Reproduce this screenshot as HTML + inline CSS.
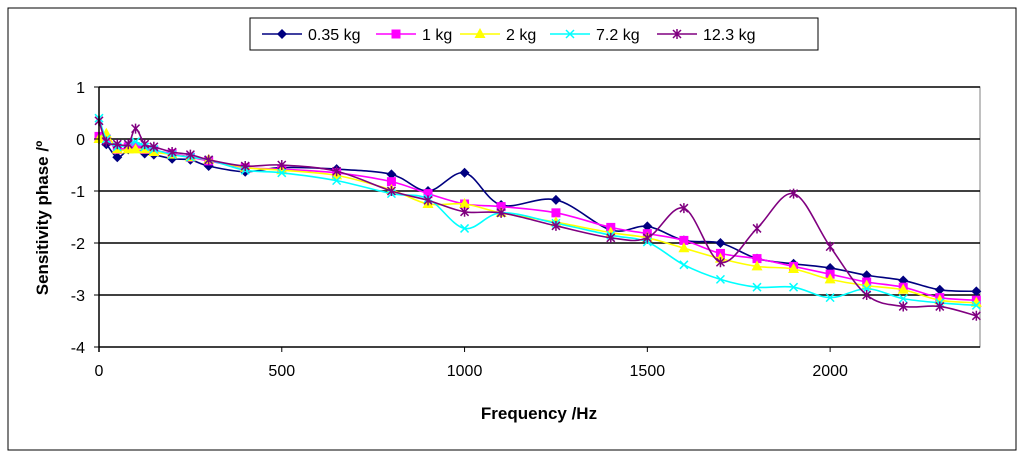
<!DOCTYPE html>
<html><head><meta charset="utf-8"><style>
body{margin:0;background:#fff;font-family:"Liberation Sans",Arial,sans-serif}
svg{display:block}
</style></head><body>
<svg width="1024" height="458" viewBox="0 0 1024 458">
<rect x="8" y="8" width="1008" height="442" fill="#fff" stroke="#000" stroke-width="1"/>
<g id="grid"></g>
<g id="series"></g>
<g id="axes"></g>
<g>
<rect x="250" y="18" width="568" height="32" fill="#fff" stroke="#000"/>
<g id="legend"></g>
</g>
<text x="48" y="218" transform="rotate(-90 48 218)" text-anchor="middle" font-size="17" font-weight="bold">Sensitivity phase /º</text>
<text x="539" y="419" text-anchor="middle" font-size="17" font-weight="bold">Frequency /Hz</text>
</svg>
<script>
const freqs=[0,20,50,80,100,125,150,200,250,300,400,500,650,800,900,1000,1100,1250,1400,1500,1600,1700,1800,1900,2000,2100,2200,2300,2400];
const s035=[0,-0.1,-0.35,-0.2,-0.15,-0.28,-0.3,-0.38,-0.4,-0.52,-0.63,-0.55,-0.58,-0.68,-1.0,-0.65,-1.27,-1.17,-1.75,-1.68,-1.95,-2.0,-2.3,-2.4,-2.48,-2.62,-2.72,-2.9,-2.93];
const s1=[0.05,0,-0.2,-0.15,-0.15,-0.2,-0.22,-0.28,-0.35,-0.42,-0.55,-0.58,-0.65,-0.82,-1.05,-1.25,-1.3,-1.42,-1.7,-1.82,-1.95,-2.2,-2.3,-2.45,-2.6,-2.75,-2.85,-3.05,-3.1];
const s2=[0,0.1,-0.2,-0.2,-0.2,-0.2,-0.25,-0.3,-0.35,-0.4,-0.55,-0.6,-0.7,-0.98,-1.25,-1.25,-1.42,-1.6,-1.8,-1.9,-2.1,-2.3,-2.45,-2.5,-2.7,-2.82,-2.9,-3.1,-3.15];
const s72=[0.4,0,-0.15,-0.1,-0.05,-0.15,-0.2,-0.3,-0.35,-0.4,-0.6,-0.65,-0.8,-1.05,-1.15,-1.72,-1.42,-1.62,-1.85,-1.98,-2.42,-2.7,-2.85,-2.85,-3.05,-2.88,-3.07,-3.15,-3.2];
const s123=[0.35,-0.05,-0.1,-0.1,0.2,-0.1,-0.15,-0.25,-0.3,-0.4,-0.52,-0.5,-0.62,-1.0,-1.18,-1.4,-1.42,-1.67,-1.9,-1.9,-1.33,-2.37,-1.72,-1.05,-2.07,-3.0,-3.22,-3.22,-3.4];
const yTicks=[1,0,-1,-2,-3,-4];
const xTicks=[0,500,1000,1500,2000];
const names=["0.35 kg","1 kg","2 kg","7.2 kg","12.3 kg"];
const colors=["#000080","#ff00ff","#ffff00","#00ffff","#800080"];
const markers=["diamond","square","triangle","x","star"];
const allSeries=[s035,s1,s2,s72,s123];
const X0=99,X1=980,Y0=87,Y1=347;
const xs=v=>X0+v*(X1-X0)/2410;
const ys=v=>Y0+(1-v)*(Y1-Y0)/5;
const NS="http://www.w3.org/2000/svg";
function mk(t,a,p){const e=document.createElementNS(NS,t);for(const k in a)e.setAttribute(k,a[k]);p.appendChild(e);return e;}
const grid=document.getElementById('grid'),axes=document.getElementById('axes'),ser=document.getElementById('series'),leg=document.getElementById('legend');
mk('rect',{x:X0,y:Y0,width:X1-X0,height:Y1-Y0,fill:'#fff',stroke:'#808080'},grid);
yTicks.forEach(t=>{const l=mk('line',{x1:X0,x2:X1,y1:ys(t),y2:ys(t),stroke:'#000','stroke-width':1.5},grid);

mk('line',{x1:X0-5,x2:X0,y1:ys(t),y2:ys(t),stroke:'#000'},axes);
const tx=mk('text',{x:X0-14,y:ys(t)+6,'text-anchor':'end','font-size':16},axes);tx.textContent=t;
});
mk('line',{x1:X0,x2:X0,y1:Y0,y2:Y1+5,stroke:'#000','stroke-width':1.5},axes);
xTicks.forEach(t=>{mk('line',{x1:xs(t),x2:xs(t),y1:Y1,y2:Y1+5,stroke:'#000'},axes);
const tx=mk('text',{x:xs(t),y:Y1+29,'text-anchor':'middle','font-size':16},axes);tx.textContent=t;
});
function smooth(pts){let d=`M${pts[0][0]},${pts[0][1]}`;for(let i=0;i<pts.length-1;i++){const p0=pts[i-1]||pts[i],p1=pts[i],p2=pts[i+1],p3=pts[i+2]||p2;
d+=` C${p1[0]+(p2[0]-p0[0])/6},${p1[1]+(p2[1]-p0[1])/6} ${p2[0]-(p3[0]-p1[0])/6},${p2[1]-(p3[1]-p1[1])/6} ${p2[0]},${p2[1]}`;}return d;}
function marker(g,type,x,y,c){
if(type==='diamond')mk('path',{d:`M${x},${y-5}L${x+5},${y}L${x},${y+5}L${x-5},${y}Z`,fill:c},g);
else if(type==='square')mk('rect',{x:x-4.5,y:y-4.5,width:9,height:9,fill:c},g);
else if(type==='triangle')mk('path',{d:`M${x},${y-6}L${x+5.5},${y+4}L${x-5.5},${y+4}Z`,fill:c},g);
else if(type==='x')mk('path',{d:`M${x-4},${y-4}L${x+4},${y+4}M${x-4},${y+4}L${x+4},${y-4}`,stroke:c,'stroke-width':1.5},g);
else mk('path',{d:`M${x-4},${y-4}L${x+4},${y+4}M${x-4},${y+4}L${x+4},${y-4}M${x},${y-5}L${x},${y+5}`,stroke:c,'stroke-width':1.5},g);}
allSeries.forEach((s,i)=>{const g=mk('g',{},ser);

const pts=s.map((v,j)=>[xs(freqs[j]),ys(v)]);
mk('path',{d:smooth(pts),fill:'none',stroke:colors[i],'stroke-width':1.6},g);
pts.forEach(p=>marker(g,markers[i],p[0],p[1],colors[i]));});
const lx=[262,376,460,550,657];
names.forEach((n,i)=>{const g=mk('g',{},leg);

mk('line',{x1:lx[i],x2:lx[i]+40,y1:34,y2:34,stroke:colors[i],'stroke-width':1.6},g);
marker(g,markers[i],lx[i]+20,34,colors[i]);
const t=mk('text',{x:lx[i]+46,y:40,'font-size':16},g);t.textContent=n;});
</script>
</body></html>
